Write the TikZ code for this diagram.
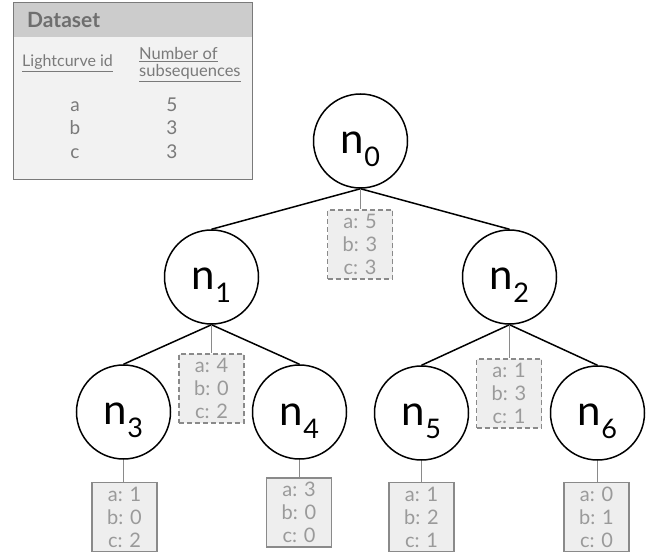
\documentclass[tikz,border=0pt]{standalone}
\usepackage{fontspec}
\setmainfont{Lato}
\definecolor{boxfill}{HTML}{EEEEEE}
\definecolor{boxline}{HTML}{8A8A8A}
\definecolor{boxtext}{HTML}{9A9A9A}
\definecolor{dstext}{HTML}{7A7A7A}
\definecolor{dshead}{HTML}{CCCCCC}
\definecolor{dsbody}{HTML}{F2F2F2}
\begin{document}
\begin{tikzpicture}[x=1pt,y=-1pt,
  treenode/.style={draw=black,line width=1.5pt,circle,minimum size=94pt,inner sep=0pt,fill=white},
  countbox/.style={draw=boxline,fill=boxfill,line width=1.2pt,minimum width=65pt,minimum height=69pt,inner sep=0pt,align=center,text=boxtext,font=\fontsize{20}{23}\selectfont},
  innerbox/.style={countbox,dashed,dash pattern=on 5pt off 3pt},
  edge/.style={draw=black,line width=1.5pt},
  tie/.style={draw=boxline,line width=1.2pt},
  dstxt/.style={inner sep=0pt,text=dstext},
  rowtxt/.style={dstxt,anchor=base,font=\fontsize{19}{19}\selectfont}]
\useasboundingbox (0,0) rectangle (654,556);
\newcommand{\nlab}[1]{\rule{0pt}{39pt}{\fontsize{42}{42}\selectfont n}\raisebox{-13pt}{\fontsize{27}{27}\selectfont #1}}

% Dataset panel
\path[fill=dsbody,draw=dstext,line width=1pt] (13,3) rectangle (252,180);
\path[fill=dshead] (13.5,3.5) rectangle (251.5,37);
\node[dstxt,anchor=base west,font=\fontsize{21}{21}\selectfont\bfseries,text=dstext!90!black] (dstitle) at (27,28) {Dataset};
\node[dstxt,anchor=base west,font=\fontsize{16}{16}\selectfont] (col1) at (22,67) {\underline{Lightcurve id}};
\node[dstxt,anchor=base west,font=\fontsize{16.5}{16}\selectfont] (col2a) at (139,60) {\underline{Number of}};
\node[dstxt,anchor=base west,font=\fontsize{16.5}{16}\selectfont] (col2b) at (139,77) {\underline{subsequences}};
\node[rowtxt] (ra) at (75,112) {a};
\node[rowtxt] (rb) at (75,135) {b};
\node[rowtxt] (rc) at (75,159) {c};
\node[rowtxt] (va) at (172,112) {5};
\node[rowtxt] (vb) at (172,135) {3};
\node[rowtxt] (vc) at (172,159) {3};

% Tree nodes
\node[treenode] (n0) at (360.5,141) {\nlab{0}};
\node[treenode] (n1) at (211.5,277) {\nlab{1}};
\node[treenode] (n2) at (509.5,277) {\nlab{2}};
\node[treenode] (n3) at (123.5,412) {\nlab{3}};
\node[treenode] (n4) at (299.5,412) {\nlab{4}};
\node[treenode] (n5) at (421.5,413) {\nlab{5}};
\node[treenode] (n6) at (597.5,413) {\nlab{6}};

% Count boxes
\node[innerbox] (b0) at (360,244.5) {a: 5\\b: 3\\c: 3};
\node[innerbox] (b1) at (211.5,388.5) {a: 4\\b: 0\\c: 2};
\node[innerbox] (b2) at (509,393.5) {a: 1\\b: 3\\c: 1};
\node[countbox] (b3) at (124.5,517) {a: 1\\b: 0\\c: 2};
\node[countbox] (b4) at (299,512.5) {a: 3\\b: 0\\c: 0};
\node[countbox] (b5) at (421.5,517) {a: 1\\b: 2\\c: 1};
\node[countbox] (b6) at (596.5,517) {a: 0\\b: 1\\c: 0};

% Edges
\draw[edge] (n0.south) -- (n1.north);
\draw[edge] (n0.south) -- (n2.north);
\draw[edge] (n1.south) -- (n3.north);
\draw[edge] (n1.south) -- (n4.north);
\draw[edge] (n2.south) -- (n5.north);
\draw[edge] (n2.south) -- (n6.north);

% Ties to count boxes
\draw[tie] (n0.south) -- (n0.south |- b0.north);
\draw[tie] (n1.south) -- (n1.south |- b1.north);
\draw[tie] (n2.south) -- (n2.south |- b2.north);
\draw[tie] (n3.south) -- (n3.south |- b3.north);
\draw[tie] (n4.south) -- (n4.south |- b4.north);
\draw[tie] (n5.south) -- (n5.south |- b5.north);
\draw[tie] (n6.south) -- (n6.south |- b6.north);
\end{tikzpicture}
\end{document}
